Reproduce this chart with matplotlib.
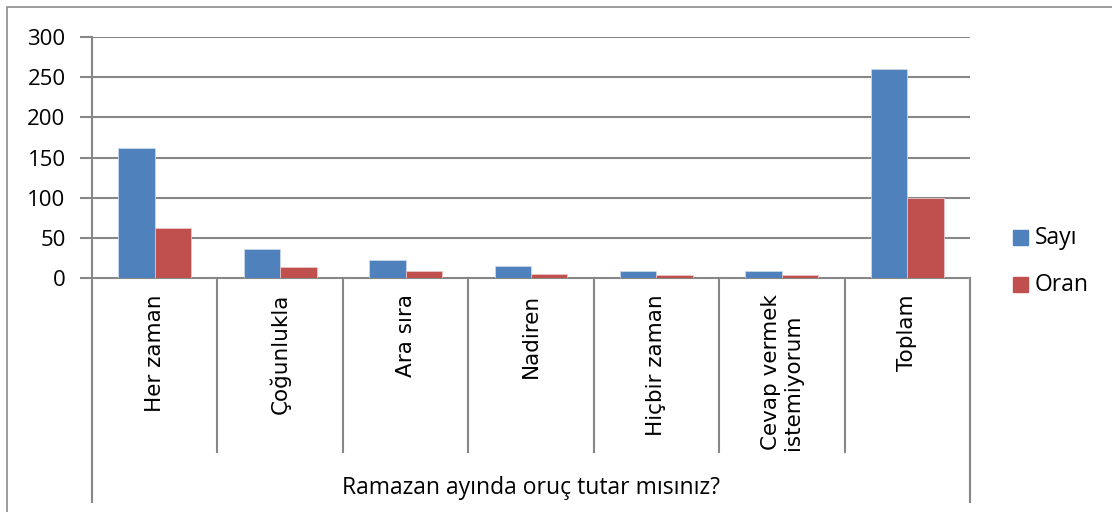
import matplotlib
matplotlib.use("Agg")
import matplotlib.pyplot as plt
import matplotlib.transforms as mtransforms
from matplotlib.patches import Rectangle
import numpy as np

categories = ["Her zaman", "Çoğunlukla", "Ara sıra", "Nadiren", "Hiçbir zaman",
              "Cevap vermek\nistemiyorum", "Toplam"]
sayi = [162, 36, 22, 15, 9, 9, 260]
oran = [62, 13.5, 8.5, 5.5, 3.5, 3.5, 100]
series_names = ["Sayı", "Oran"]
yticks = [0, 50, 100, 150, 200, 250, 300]
group_title = "Ramazan ayında oruç tutar mısınız?"

blue = "#4F81BD"
red = "#C0504D"
grid = "#878787"

W, H = 1112, 512
fig = plt.figure(figsize=(W / 100, H / 100), dpi=100)
fig.patch.set_facecolor("white")

# outer chart border
fig.add_artist(Rectangle((7 / W, -0.1), 1.2, (H - 7) / H + 0.1, transform=fig.transFigure,
                         fill=False, edgecolor="#8c8c8c", linewidth=1.2))

left, right, top, bottom = 92, 970, 37, 278
ax = fig.add_axes([left / W, 1 - bottom / H, (right - left) / W, (bottom - top) / H])

n = len(categories)
x = np.arange(n)
bw = 0.29
ax.bar(x - bw / 2, sayi, bw, color=blue, edgecolor="#c8d6ea", linewidth=0.6, zorder=3)
ax.bar(x + bw / 2, oran, bw, color=red, edgecolor="#e8c4c3", linewidth=0.6, zorder=3)

ax.set_xlim(-0.5, n - 0.5)
ax.set_ylim(0, 300)
ax.set_yticks(yticks)
ax.set_yticklabels([str(v) for v in yticks], fontfamily="Open Sans", fontsize=16)
ax.tick_params(axis="y", length=9, width=1.5, color=grid, pad=10)
ax.set_xticks([])
for v in yticks[1:]:
    ax.axhline(v, color=grid, linewidth=1.5, zorder=1)

for s in ["top", "right"]:
    ax.spines[s].set_visible(False)
ax.spines["left"].set_color(grid)
ax.spines["left"].set_linewidth(1.5)
ax.spines["bottom"].set_color(grid)
ax.spines["bottom"].set_linewidth(1.5)

trans = mtransforms.blended_transform_factory(ax.transData, ax.transAxes)
ph = bottom - top
inner_end = -(452 - bottom) / ph
outer_end = -(502 - bottom) / ph
for i in range(n + 1):
    xb = i - 0.5
    end = outer_end if i in (0, n) else inner_end
    ax.plot([xb, xb], [0, end], transform=trans, color=grid, linewidth=1.5,
            clip_on=False, zorder=2)

label_top = -(294 - bottom) / ph
for i, c in enumerate(categories):
    ax.text(i, label_top, c, transform=trans, rotation=90, ha="center", va="top",
            fontfamily="DejaVu Sans", fontsize=15.5, multialignment="left",
            linespacing=1.1)

ax.text((n - 1) / 2, -(488 - bottom) / ph, group_title, transform=trans,
        ha="center", va="center", fontfamily="Open Sans", fontsize=16.5)

# legend
for j, (name, col, yc) in enumerate([(series_names[0], blue, 238), (series_names[1], red, 285)]):
    fig.add_artist(Rectangle((1013 / W, 1 - (yc + 7) / H), 15 / W, 15 / H,
                             transform=fig.transFigure, color=col))
    fig.text(1035 / W, 1 - yc / H, name, ha="left", va="center",
             fontfamily="Open Sans", fontsize=16.5)

fig.savefig("out.png", dpi=100)
